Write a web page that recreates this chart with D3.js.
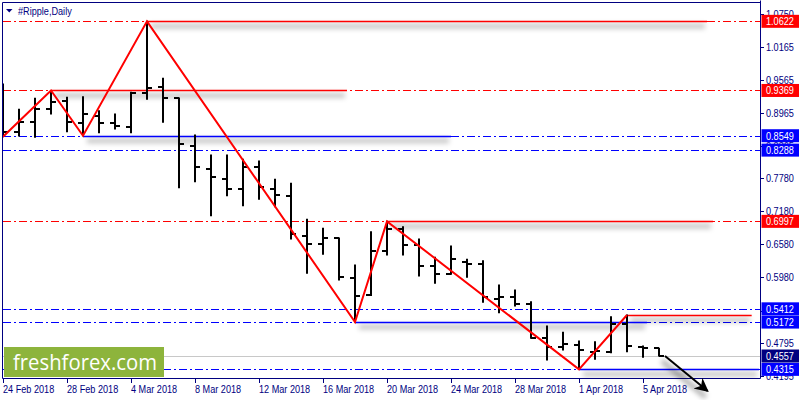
<!DOCTYPE html>
<html><head><meta charset="utf-8">
<script src="https://cdn.jsdelivr.net/npm/d3@7"></script>
<style>body{margin:0;background:#fff}svg{display:block}</style>
</head><body><svg id="c" width="800" height="400"></svg>
<script>
// ---------- data ----------
const title = "#Ripple,Daily";
const dates = ["2018-02-24","2018-02-25","2018-02-26","2018-02-27","2018-02-28","2018-03-01","2018-03-02","2018-03-03","2018-03-04","2018-03-05",
"2018-03-06","2018-03-07","2018-03-08","2018-03-09","2018-03-10","2018-03-11","2018-03-12","2018-03-13","2018-03-14","2018-03-15",
"2018-03-16","2018-03-17","2018-03-18","2018-03-19","2018-03-20","2018-03-21","2018-03-22","2018-03-23","2018-03-24","2018-03-25",
"2018-03-26","2018-03-27","2018-03-28","2018-03-29","2018-03-30","2018-03-31","2018-04-01","2018-04-02","2018-04-03","2018-04-04",
"2018-04-05","2018-04-06"];
const open  = [0.8580,0.8621,0.8803,0.9033,0.9183,0.8774,0.8906,0.8784,0.8712,0.9328,
0.9426,0.9227,0.8368,0.7945,0.7764,0.7583,0.7976,0.7583,0.7462,0.6737,
0.6581,0.6689,0.5979,0.5662,0.6465,0.6853,0.6568,0.6193,0.6043,0.6266,
0.6218,0.5589,0.5631,0.5495,0.4877,0.4725,0.4756,0.4634,0.4624,0.5131,
0.4720,0.4696];
const high  = [0.9486,0.9027,0.9227,0.9369,0.9245,0.9256,0.9002,0.8942,0.9335,1.0622,
0.9589,0.9232,0.8562,0.8199,0.8199,0.8121,0.8090,0.7759,0.7686,0.7034,
0.6871,0.6695,0.6206,0.6809,0.6997,0.6900,0.6677,0.6345,0.6550,0.6309,
0.6284,0.5843,0.5753,0.5541,0.5100,0.4986,0.4829,0.4816,0.5269,0.5300,
0.4738,0.4696];
const low   = [0.8531,0.8543,0.8520,0.8942,0.8621,0.8549,0.8603,0.8670,0.8603,0.9209,
0.8792,0.7607,0.7715,0.7099,0.7461,0.7280,0.7396,0.7262,0.6677,0.6055,
0.6400,0.5934,0.5172,0.5655,0.6387,0.6387,0.6006,0.5874,0.6040,0.5983,
0.5530,0.5341,0.5463,0.4877,0.4484,0.4665,0.4315,0.4497,0.4617,0.4634,
0.4533,0.4557];
const close = [0.8621,0.8797,0.9027,0.9165,0.8792,0.8937,0.8784,0.8725,0.9328,0.9422,
0.9237,0.8398,0.7987,0.7795,0.7583,0.7987,0.7625,0.7474,0.6767,0.6586,
0.6689,0.5994,0.5653,0.6465,0.6853,0.6568,0.6193,0.6043,0.6309,0.6224,
0.5620,0.5631,0.5499,0.4883,0.4725,0.4769,0.4665,0.4647,0.5131,0.4738,
0.4707,0.4557];

const priceTicks = [1.0750,1.0165,0.9565,0.8965,0.8365,0.7780,0.7180,0.6580,0.5980,0.5380,0.4795,0.4195];
const hiddenTickLabels = [0.5380];
const dateTicks = ["2018-02-24","2018-02-28","2018-03-04","2018-03-08","2018-03-12","2018-03-16","2018-03-20","2018-03-24","2018-03-28","2018-04-01","2018-04-05"];

const zigzagDates  = ["2018-02-24","2018-02-27","2018-03-01","2018-03-05","2018-03-18","2018-03-20","2018-04-01","2018-04-04"];
const zigzagPrices = [0.8531,0.9369,0.8549,1.0622,0.5172,0.6997,0.4315,0.5300];

// horizontal level lines (full width, dash-dot) with price label
const levelPrices = [1.0622,0.9369,0.8549,0.8288,0.6997,0.5412,0.5172,0.4315];
const levelKinds  = ["res","res","sup","sup","res","sup","sup","sup"];
// trend segments (solid, shadowed)
const segPrices = [1.0622,0.9369,0.8549,0.6997,0.5172,0.5300,0.4315];
const segKinds  = ["res","res","sup","res","sup","res","sup"];
const segStart  = ["2018-03-05","2018-02-27","2018-03-01","2018-03-20","2018-03-18","2018-04-04","2018-04-01"];
const segEnd    = ["2018-04-09T00:00Z","2018-03-17T12:00Z","2018-03-24T00:00Z","2018-04-09T09:00Z","2018-04-05T06:00Z","2018-04-11T19:00Z","2018-04-12T06:00Z"];
const bidPrice = 0.4557;
// forecast arrow
const arrowDates  = ["2018-04-06T09:00Z","2018-04-09T07:00Z"];
const arrowPrices = [0.4557,0.3868];
const logoText = "freshforex.com";

// ---------- drawing ----------
const svg = d3.select("#c");
const L = 3, R = 760, T = 2.5, B = 378.5;
const parse = s => new Date(s.length === 10 ? s + "T00:00Z" : s);
const x = d3.scaleUtc().domain([parse("2018-02-24"), parse("2018-04-11")]).range([3, 3 + 46*16]);
const y = d3.scaleLinear().domain([0.41585, 1.09541]).range([378, 3]);
const col = {res:"#ff0000", sup:"#0000ff"};
const navy = "#000080";
const font = "'Liberation Sans',Arial,sans-serif";
const SX = 0.83;
function txt(g, tx, ty, str, fill, dy){
  return g.append("text").attr("transform",`translate(${tx},${ty}) scale(${SX},1)`)
    .attr("dy",dy||0).attr("fill",fill).attr("font-family",font).attr("font-size",11).text(str);
}

const defs = svg.append("defs");
defs.append("clipPath").attr("id","plot").append("rect").attr("x",L).attr("y",T).attr("width",R-L).attr("height",B-T);
defs.append("filter").attr("id","blur").attr("x","-20%").attr("y","-200%").attr("width","140%").attr("height","500%")
  .append("feGaussianBlur").attr("stdDeviation",2.5);
defs.append("marker").attr("id","ah").attr("viewBox","0 0 10 10").attr("refX",9).attr("refY",5)
  .attr("markerWidth",8.5).attr("markerHeight",7).attr("markerUnits","strokeWidth").attr("orient","auto")
  .append("path").attr("d","M0,0 L10,5 L0,10 L3,5 Z").attr("fill","#000");

const plot = svg.append("g").attr("clip-path","url(#plot)");

// bid line
plot.append("line").attr("x1",L).attr("x2",R).attr("y1",Math.round(y(bidPrice))+0.5).attr("y2",Math.round(y(bidPrice))+0.5)
  .attr("stroke","#c8c8c8").attr("stroke-width",1);

// dash-dot levels
plot.selectAll(".lvl").data(levelPrices).enter().append("line")
  .attr("x1",L).attr("x2",R).attr("y1",d=>Math.round(y(d))+0.5).attr("y2",d=>Math.round(y(d))+0.5)
  .attr("stroke",(d,i)=>col[levelKinds[i]]).attr("stroke-width",1).attr("stroke-dasharray","8,3,2,3");

// segment shadows
const segIdx = d3.range(segPrices.length);
plot.append("g").attr("filter","url(#blur)").selectAll("line").data(segIdx).enter().append("line")
  .attr("x1",i=>x(parse(segStart[i]))+4).attr("x2",i=>x(parse(segEnd[i]))-2)
  .attr("y1",i=>y(segPrices[i])+5).attr("y2",i=>y(segPrices[i])+5)
  .attr("stroke","#000").attr("stroke-opacity",0.22).attr("stroke-width",5);
// segments
plot.append("g").selectAll("line").data(segIdx).enter().append("line")
  .attr("x1",i=>x(parse(segStart[i]))).attr("x2",i=>x(parse(segEnd[i])))
  .attr("y1",i=>Math.round(y(segPrices[i]))+0.5).attr("y2",i=>Math.round(y(segPrices[i]))+0.5)
  .attr("stroke",i=>col[segKinds[i]]).attr("stroke-width",1.3);

// OHLC bars
const bars = plot.append("g").attr("stroke","#000").attr("stroke-width",2);
dates.forEach((ds,i)=>{
  const cx = Math.round(x(parse(ds)));
  bars.append("line").attr("x1",cx).attr("x2",cx).attr("y1",y(high[i])-0.5).attr("y2",y(low[i])+0.5);
  bars.append("line").attr("x1",cx-5).attr("x2",cx).attr("y1",Math.round(y(open[i]))).attr("y2",Math.round(y(open[i])));
  bars.append("line").attr("x1",cx).attr("x2",cx+5).attr("y1",Math.round(y(close[i]))).attr("y2",Math.round(y(close[i])));
});

// zigzag
plot.append("path").datum(zigzagDates.map((d,i)=>[x(parse(d)), y(zigzagPrices[i])]))
  .attr("d", d3.line()).attr("fill","none").attr("stroke","#ff0000").attr("stroke-width",2);

// frame
svg.append("path").attr("d",`M${L-0.5},${T} H${R+0.5} M${L-0.5},${T} V${B} H${R+0.5} M${R+0.5},${T-2} V${B}`)
  .attr("stroke",navy).attr("stroke-width",1).attr("fill","none");

// arrow (with shadow)
const ap = arrowDates.map((d,i)=>[x(parse(d)), y(arrowPrices[i])]);
svg.append("line").attr("x1",ap[0][0]-3).attr("y1",ap[0][1]+5).attr("x2",ap[1][0]-6).attr("y2",ap[1][1]+3)
  .attr("stroke","#000").attr("stroke-opacity",0.3).attr("stroke-width",5).attr("filter","url(#blur)");
svg.append("line").attr("x1",ap[0][0]).attr("y1",ap[0][1]).attr("x2",ap[1][0]-4).attr("y2",ap[1][1]-3)
  .attr("stroke","#000").attr("stroke-width",2).attr("marker-end","url(#ah)");

// right axis ticks
const ra = svg.append("g");
priceTicks.forEach(p=>{
  const yy = Math.round(y(p))+0.5;
  ra.append("line").attr("x1",R).attr("x2",R+4).attr("y1",yy).attr("y2",yy).attr("stroke",navy);
  if (!hiddenTickLabels.includes(p)) txt(ra, 766, yy, d3.format(".4f")(p), navy, "0.35em");
});
// level labels
const lab = svg.append("g");
const allLabels = levelPrices.map((p,i)=>({p, c: col[levelKinds[i]]})).concat([{p:bidPrice, c:navy}]);
allLabels.forEach(o=>{
  const yy = y(o.p);
  lab.append("rect").attr("x",761.5).attr("y",yy-6.5).attr("width",37.5).attr("height",13).attr("fill",o.c);
  txt(lab, 766, yy, d3.format(".4f")(o.p), "#fff", "0.36em");
});

// bottom axis
const fmt = d3.utcFormat("%-d %b %Y");
const ba = svg.append("g");
dateTicks.forEach(ds=>{
  const xx = Math.round(x(parse(ds)))+0.5;
  ba.append("line").attr("x1",xx).attr("x2",xx).attr("y1",B).attr("y2",B+4.5).attr("stroke",navy);
  txt(ba, xx-0.5, 393, fmt(parse(ds)), navy);
});

// title
svg.append("path").attr("d","M6,9 L12.5,9 L9.25,12.5 Z").attr("fill",navy);
txt(svg, 18, 15, title, navy);

// logo
svg.append("rect").attr("x",4).attr("y",347).attr("width",160).attr("height",30).attr("fill","#8db43c");
svg.append("text").attr("x",13).attr("y",369.5).attr("fill","#fff").attr("font-family","'Open Sans',sans-serif")
  .attr("font-size",21).attr("textLength",144).attr("lengthAdjust","spacingAndGlyphs").text(logoText);
</script></body></html>
